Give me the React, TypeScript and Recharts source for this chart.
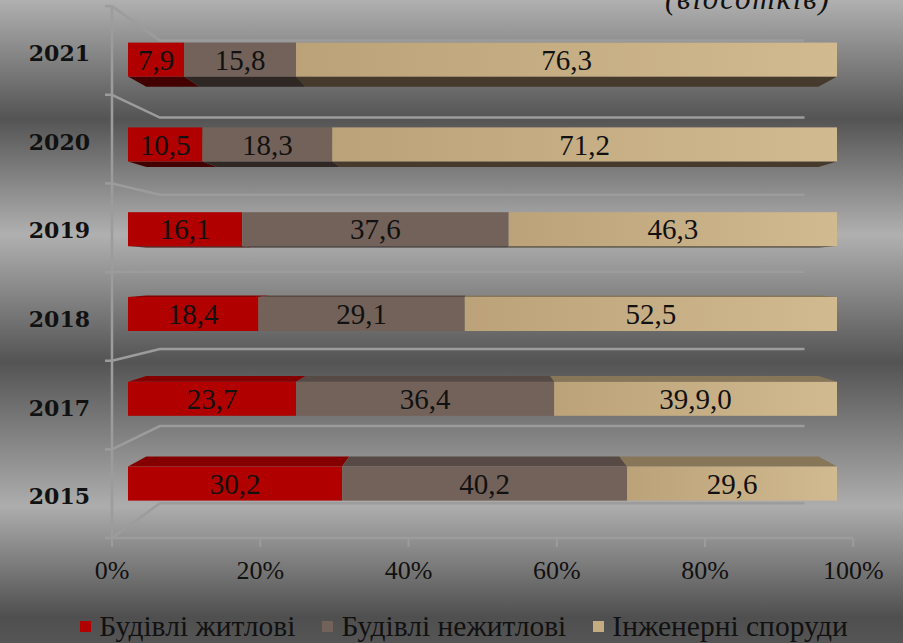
import React from 'react';
import { BarChart, Bar, XAxis, YAxis, LabelList, Legend } from 'recharts';

const years = ['2021', '2020', '2019', '2018', '2017', '2015'];
const residential = [7.9, 10.5, 16.1, 18.4, 23.7, 30.2];
const nonResidential = [15.8, 18.3, 37.6, 29.1, 36.4, 40.2];
const engineering = [76.3, 71.2, 46.3, 52.5, 39.9, 29.6];
const engineeringLabels = ['76,3', '71,2', '46,3', '52,5', '39,9,0', '29,6'];
const pctTicks = [0, 20, 40, 60, 80, 100];
const seriesNames = ['Будівлі житлові', 'Будівлі нежитлові', 'Інженерні споруди'];

const data = years.map((year, i) => ({
  year,
  res: residential[i],
  nonres: nonResidential[i],
  eng: engineering[i],
  engLabel: engineeringLabels[i],
}));

// plot box (set by the margins below) and the fake 3d perspective
const PLOT = { left: 112, right: 853, top: 6, bottom: 538 };
const VP = { x: 480, y: 270 };
const BAR_DEPTH = 0.0435; // bars sit a bit behind the front plane
const FACE_DEPTH = 0.052;
const WALL_DEPTH = 0.13;

const SERIF = '"Liberation Serif", serif';
const GRID = '#9c9c9c';
const legendColors = ['#b00000', '#736259', '#c4ab80'];

const fmt = (v: number) => v.toFixed(1).replace('.', ',');
// project a point on the bar plane back onto the front plane
const toFront = (p: number, vp: number) => vp + (p - vp) / (1 - BAR_DEPTH);
const toBack = (p: number, vp: number, k: number) => p + (vp - p) * k;

function Bar3D(props: any) {
  const { x, y, width, height, fill, topFill, bottomFill } = props;
  if (!width || !height) return null;
  const above = y + height / 2 < VP.y;
  const ey = above ? y + height : y;
  const bx1 = toBack(x, VP.x, FACE_DEPTH);
  const bx2 = toBack(x + width, VP.x, FACE_DEPTH);
  const by = toBack(ey, VP.y, FACE_DEPTH);
  return (
    <g>
      <polygon
        points={`${x},${ey} ${x + width},${ey} ${bx2},${by} ${bx1},${by}`}
        fill={above ? bottomFill : topFill}
      />
      <rect x={x} y={y} width={width} height={height} fill={fill} />
    </g>
  );
}

function WallLine({ b }: { b: number }) {
  const bx = toBack(PLOT.left, VP.x, WALL_DEPTH);
  const by = toBack(b, VP.y, WALL_DEPTH);
  const ex = toBack(PLOT.right, VP.x, WALL_DEPTH);
  return (
    <g stroke={GRID} strokeWidth={2.5} fill="none">
      <line x1={PLOT.left - 7} y1={b} x2={PLOT.left} y2={b} />
      <polyline points={`${PLOT.left},${b} ${bx},${by} ${ex},${by}`} />
    </g>
  );
}

function YearTick(props: any) {
  const { x, y, payload, index, visibleTicksCount } = props;
  const half = (payload?.offset || 42.4) / (1 - BAR_DEPTH);
  const yf = toFront(y, VP.y);
  const last = index === (visibleTicksCount ?? years.length) - 1;
  return (
    <g>
      <WallLine b={yf - half} />
      {last && <WallLine b={yf + half} />}
      <text
        x={x}
        y={yf + 3}
        dy="0.35em"
        textAnchor="end"
        fill="#111"
        fontSize={22}
        fontWeight="bold"
        fontFamily='"DejaVu Serif", serif'
      >
        {payload.value}
      </text>
    </g>
  );
}

function PctTick(props: any) {
  const { x, y, payload } = props;
  const xf = toFront(x, VP.x);
  return (
    <g>
      <line x1={xf} y1={PLOT.bottom} x2={xf} y2={PLOT.bottom + 9} stroke={GRID} strokeWidth={2} />
      <text x={xf} y={y - 2} dy="0.71em" textAnchor="middle" fill="#111" fontSize={26} fontFamily={SERIF}>
        {`${payload.value}%`}
      </text>
    </g>
  );
}

const renderLegend = () => (
  <div
    style={{
      display: 'flex',
      justifyContent: 'center',
      gap: 27,
      fontFamily: SERIF,
      fontSize: 29.5,
      lineHeight: '30px',
      color: '#111',
      paddingLeft: 75,
    }}
  >
    {seriesNames.map((n, i) => (
      <span key={n} style={{ display: 'flex', alignItems: 'center' }}>
        <span
          style={{ width: 11, height: 11, background: legendColors[i], marginRight: 8, display: 'inline-block' }}
        />
        {n}
      </span>
    ))}
  </div>
);

const labelStyle = { fill: '#111', fontSize: 29, fontFamily: SERIF };

export default function App() {
  return (
    <div
      style={{
        position: 'absolute',
        left: 0,
        top: 0,
        width: 903,
        height: 643,
        overflow: 'hidden',
        background:
          'linear-gradient(to bottom, #b0b0b0 0%, #545454 18.5%, #b0b0b0 36.5%, #545454 56.3%, #adadad 78.7%, #4f4f4f 96%, #555 100%)',
      }}
    >
      <div
        style={{
          position: 'absolute',
          left: 665,
          top: -17,
          fontFamily: SERIF,
          fontStyle: 'italic',
          fontSize: 31,
          lineHeight: '31px',
          letterSpacing: 1.8,
          color: '#111',
        }}
      >
        (відсотків)
      </div>
      <BarChart
        width={903}
        height={643}
        data={data}
        layout="vertical"
        margin={{ top: PLOT.top, right: 903 - PLOT.right, left: 0, bottom: 2 }}
      >
        <defs>
          <linearGradient id="tan" x1="0" y1="0" x2="1" y2="0">
            <stop offset="0%" stopColor="#bba279" />
            <stop offset="100%" stopColor="#d2ba90" />
          </linearGradient>
        </defs>
        <XAxis
          type="number"
          domain={[0, 100]}
          ticks={pctTicks}
          padding={{ left: 16, right: 16 }}
          height={73}
          tickSize={9}
          tickMargin={16}
          axisLine={{ stroke: GRID, strokeWidth: 2.5 }}
          tickLine={false}
          tick={<PctTick />}
          interval={0}
        />
        <YAxis
          type="category"
          dataKey="year"
          width={PLOT.left}
          padding={{ top: 11.6, bottom: 11.6 }}
          tickSize={0}
          tickMargin={22}
          axisLine={{ stroke: GRID, strokeWidth: 2.5 }}
          tickLine={false}
          tick={<YearTick />}
          interval={0}
        />
        <Bar
          dataKey="res"
          name={seriesNames[0]}
          stackId="a"
          barSize={34}
          fill="#b00000"
          isAnimationActive={false}
          shape={(p: any) => <Bar3D {...p} topFill="#840000" bottomFill="#420000" />}
        >
          <LabelList dataKey="res" position="center" formatter={(v: any) => fmt(Number(v))} {...labelStyle} />
        </Bar>
        <Bar
          dataKey="nonres"
          name={seriesNames[1]}
          stackId="a"
          barSize={34}
          fill="#736259"
          isAnimationActive={false}
          shape={(p: any) => <Bar3D {...p} topFill="#574a45" bottomFill="#2e2724" />}
        >
          <LabelList dataKey="nonres" position="center" formatter={(v: any) => fmt(Number(v))} {...labelStyle} />
        </Bar>
        <Bar
          dataKey="eng"
          name={seriesNames[2]}
          stackId="a"
          barSize={34}
          fill="url(#tan)"
          isAnimationActive={false}
          shape={(p: any) => <Bar3D {...p} topFill="#877658" bottomFill="#453a2b" />}
        >
          <LabelList dataKey="engLabel" position="center" {...labelStyle} />
        </Bar>
        <Legend verticalAlign="bottom" height={30} content={renderLegend} />
      </BarChart>
    </div>
  );
}
